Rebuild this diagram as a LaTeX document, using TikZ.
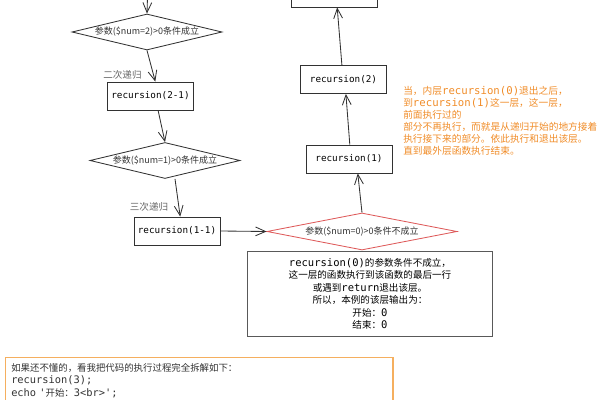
\documentclass[tikz,border=0pt]{standalone}
\usepackage{fontspec}
\setmainfont{Noto Sans CJK SC}
\setmonofont{DejaVu Sans Mono}[Scale=1.1]
\usepackage{tikz}
\usetikzlibrary{arrows.meta, positioning, shapes.geometric}
\definecolor{inkGray}{RGB}{50,50,50}
\definecolor{noteOrange}{RGB}{240,140,40}
\definecolor{codeOrange}{RGB}{245,175,95}
\definecolor{condRed}{RGB}{222,90,90}
\newcommand{\cd}[1]{{\ttfamily #1}}

\begin{document}
\begin{tikzpicture}[
    x=0.025cm, y=-0.025cm,
    font=\fontsize{6.4}{8.6}\selectfont,
    box/.style={draw=inkGray, line width=0.6pt, minimum width=2.15cm, minimum height=0.7cm, inner sep=2pt, font=\fontsize{6}{8}\selectfont\ttfamily},
    cond/.style={diamond, draw=inkGray, line width=0.6pt, aspect=4, inner sep=0pt, minimum width=3.75cm, minimum height=0.9cm, text=inkGray},
    arrow/.style={-{Straight Barb[length=2.5mm, width=2.2mm]}, line width=0.6pt, draw=inkGray},
    lbl/.style={text=black!60, font=\fontsize{6.8}{8}\selectfont},
    note/.style={draw=black!65, line width=0.7pt, align=center, minimum width=6.1cm, minimum height=2.1cm, font=\fontsize{6.8}{8.9}\selectfont},
    hint/.style={text=noteOrange, align=left, inner sep=0pt, font=\fontsize{6.9}{8.6}\selectfont},
    code/.style={draw=codeOrange, line width=0.9pt, align=left, text width=9.4cm, inner sep=4pt, text=inkGray, font=\fontsize{6.7}{8.9}\selectfont}
  ]
    \useasboundingbox (0,0) rectangle (600,400);

    % descending side
    \coordinate (in) at (148,-20);
    \node[cond] (d2) at (147,32) {参数(\$num=2)>0条件成立};
    \node[box] (b21) at (150.5,96) {recursion(2-1)};
    \node[cond] (d1) at (165,160.5) {参数(\$num=1)>0条件成立};
    \node[box] (b11) at (177,231) {recursion(1-1)};
    \node[cond, draw=condRed, aspect=5, minimum width=4.75cm, minimum height=0.925cm] (d0) at (362,231.5) {参数(\$num=0)>0条件不成立};

    % returning side
    \node[box] (r1) at (349,159) {recursion(1)};
    \node[box] (r2) at (343.5,79.5) {recursion(2)};
    \node[box] (r3) at (334,-7) {};

    \draw[arrow] (in) -- (d2.north);
    \draw[arrow] (d2.south) -- node[lbl, pos=0.78, left=0.17cm]{二次递归} ([xshift=.12cm]b21.north);
    \draw[arrow] ([xshift=.19cm]b21.south) -- (d1.north);
    \draw[arrow] ([xshift=.25cm]d1.south) -- node[lbl, pos=0.74, left=0.14cm]{三次递归} ([xshift=.08cm]b11.north);
    \draw[arrow] (b11.east) -- (d0.west);
    \draw[arrow] (d0.north) -- ([xshift=.22cm]r1.south);
    \draw[arrow] ([xshift=.02cm]r1.north) -- ([xshift=.06cm]r2.south);
    \draw[arrow] ([xshift=-.04cm]r2.north) -- ([xshift=.08cm]r3.south);

    \node[hint, anchor=north west] (why) at (403,86) {当，内层\cd{recursion(0)}退出之后，\\到\cd{recursion(1)}这一层，这一层，\\前面执行过的\\部分不再执行，而就是从递归开始的地方接着\\执行接下来的部分。依此执行和退出该层。\\直到最外层函数执行结束。};

    \node[note] (stop) at (370,294) {\cd{recursion(0)}的参数条件不成立，\\这一层的函数执行到该函数的最后一行\\或遇到\cd{return}退出该层。\\所以，本例的该层输出为：\\开始：\cd{0}\\结束：\cd{0}};

    \node[code, anchor=north west] (src) at (5,357) {如果还不懂的，看我把代码的执行过程完全拆解如下：\\\cd{recursion(3);}\\\cd{echo '}开始：\cd{3<br>';}};
  \end{tikzpicture}
\end{document}
